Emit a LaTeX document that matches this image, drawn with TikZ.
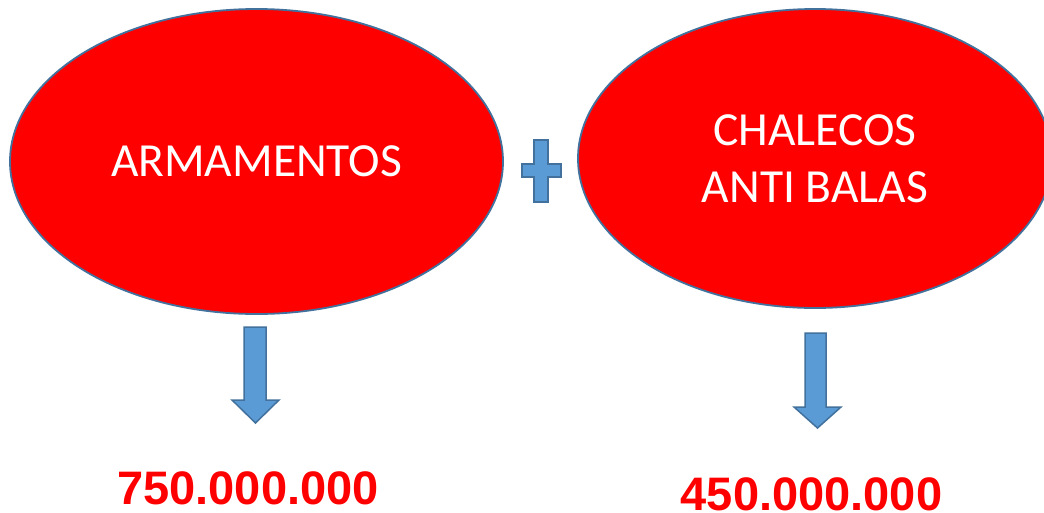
\documentclass[tikz,border=0pt]{standalone}
\usepackage{fontspec}
\setmainfont{Carlito}
\newfontfamily\numfont{Liberation Sans}
\usetikzlibrary{shapes.geometric}
\definecolor{ovred}{HTML}{FF0000}
\definecolor{ovline}{HTML}{41719C}
\definecolor{arrfill}{HTML}{5B9BD5}
\tikzset{
  oval/.style={ellipse, draw=ovline, line width=1.8pt, fill=ovred, inner sep=0pt,
    text=white, font=\fontsize{47.5}{57}\selectfont, align=center},
  blockshape/.style={draw=ovline, line width=1.5pt, fill=arrfill, line join=miter},
  amount/.style={text=ovred, font=\numfont\bfseries\fontsize{47}{56}\selectfont, anchor=base, inner sep=0pt}
}
\begin{document}
\begin{tikzpicture}[x=1pt, y=-1pt]
\useasboundingbox (0,0) rectangle (1044,512);
\clip (0,0) rectangle (1044,512);
\fill[white] (0,0) rectangle (1044,512);
% ovals
\node[oval, minimum width=493pt, minimum height=305pt] (arm) at (256.5,161.5) {ARMAMENTOS};
\node[oval, minimum width=474pt, minimum height=299pt] (cha) at (815,158.5) {CHALECOS\\ANTI BALAS};
% plus sign
\draw[blockshape] (534,140) -- (548,140) -- (548,164) -- (561,164) -- (561,177) -- (548,177)
  -- (548,202) -- (534,202) -- (534,177) -- (522,177) -- (522,164) -- (534,164) -- cycle;
% down arrows
\draw[blockshape] (244,327) -- (266,327) -- (266,400) -- (279,400) -- (255.5,423) -- (232,400) -- (244,400) -- cycle;
\draw[blockshape] (805,333) -- (826,333) -- (826,407) -- (841,407) -- (817.5,428) -- (794,407) -- (805,407) -- cycle;
% amounts
\node[amount] (v1) at (248,504) {750.000.000};
\node[amount] (v2) at (811.5,510) {450.000.000};
\end{tikzpicture}
\end{document}
